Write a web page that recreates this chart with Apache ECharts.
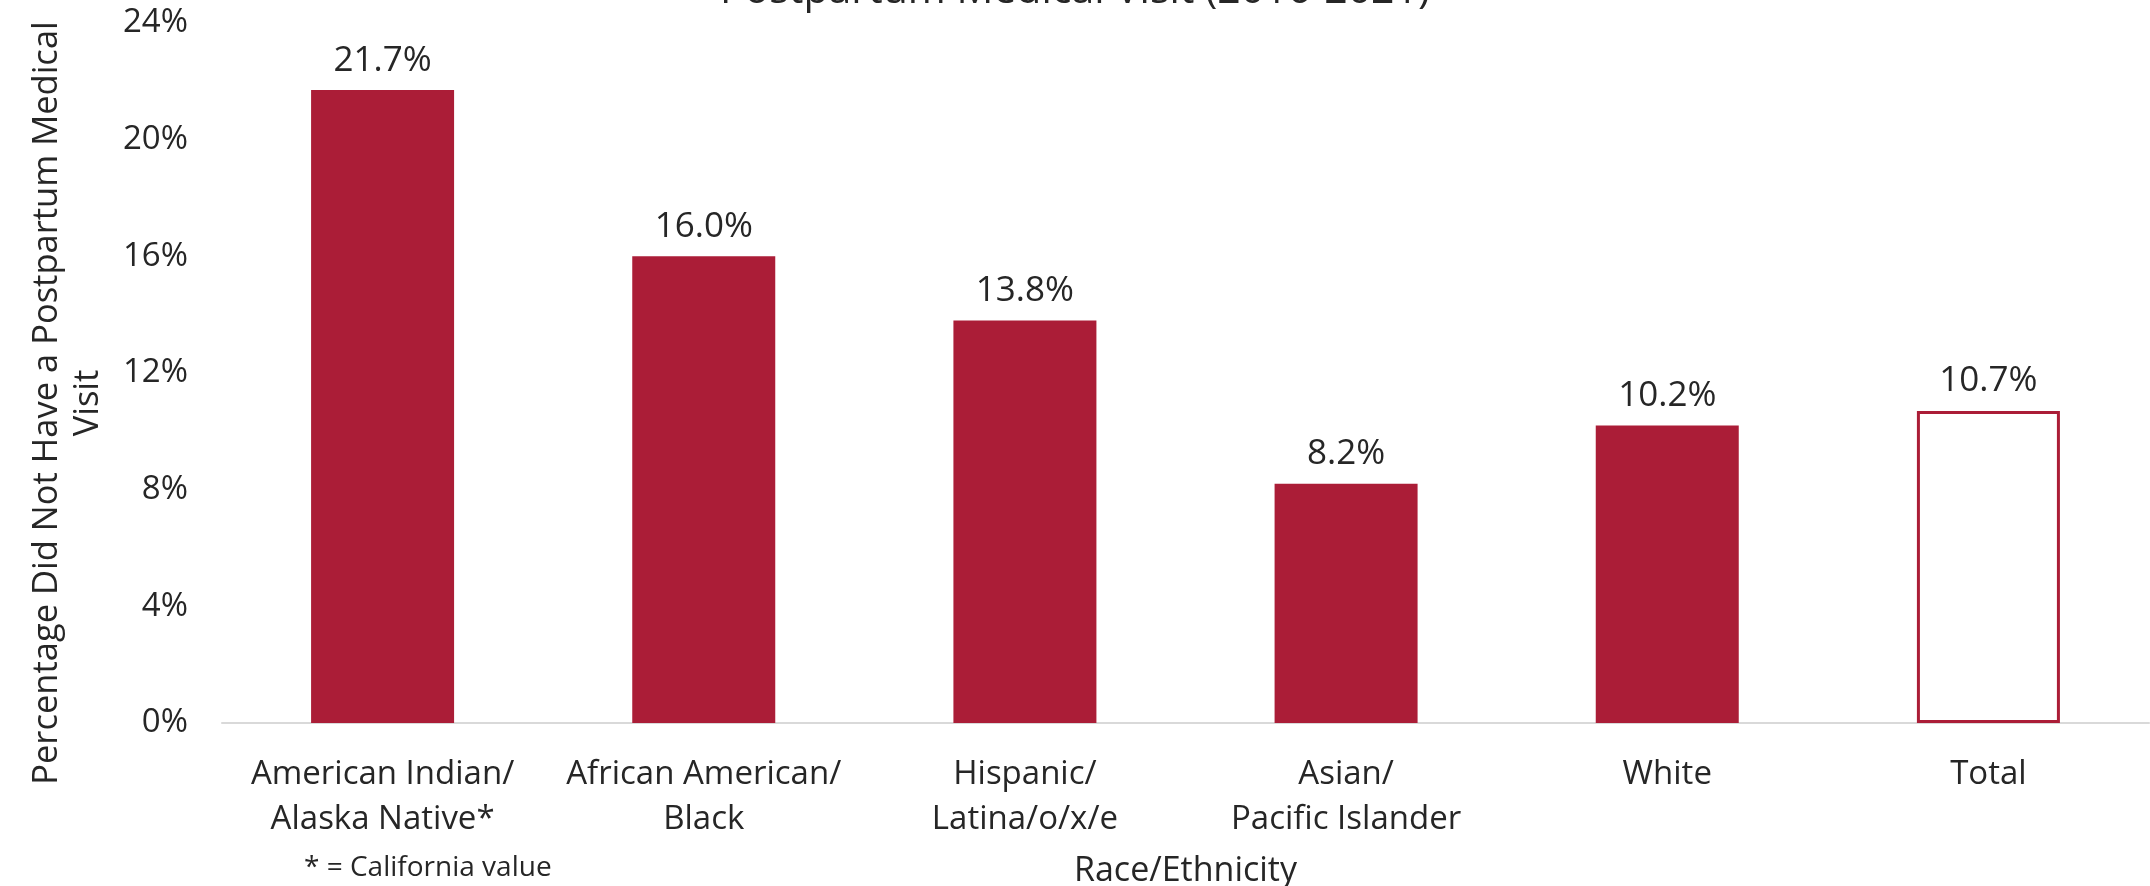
<!DOCTYPE html>
<html>
<head>
<meta charset="utf-8">
<script src="https://cdn.jsdelivr.net/npm/echarts@6/dist/echarts.min.js"></script>
<style>html,body{margin:0;padding:0;background:#fff}#c{width:2150px;height:886px}</style>
</head>
<body>
<div id="c"></div>
<script>
const categories = ["American Indian/\nAlaska Native*", "African American/\nBlack", "Hispanic/\nLatina/o/x/e", "Asian/\nPacific Islander", "White", "Total"];
const values = [21.7, 16.0, 13.8, 8.2, 10.2, 10.7];
const yTicks = [0, 4, 8, 12, 16, 20, 24];
const titleText = "Postpartum Medical Visit (2016-2021)";
const yAxisTitle = "Percentage Did Not Have a Postpartum Medical\nVisit";
const xAxisTitle = "Race/Ethnicity";
const noteText = "* = California value";

const RED = '#AB1D37';
const FONT = 'Open Sans';
const TXT = '#262626';

const chart = echarts.init(document.getElementById('c'));
const data = values.map((v, i) => {
  if (categories[i] === 'Total') {
    return { value: v, itemStyle: { color: '#ffffff', borderColor: RED, borderWidth: 3 } };
  }
  return { value: v };
});

chart.setOption({
  animation: false,
  backgroundColor: '#fff',
  textStyle: { fontFamily: FONT },
  title: {
    text: titleText,
    left: 'center',
    top: -34,
    textStyle: { fontFamily: FONT, fontSize: 41, fontWeight: 'normal', color: TXT }
  },
  grid: { left: 222, right: 1, top: 23, bottom: 163, outerBoundsMode: 'none', containLabel: false },
  xAxis: {
    type: 'category',
    data: categories,
    name: xAxisTitle,
    nameLocation: 'middle',
    nameGap: 131,
    nameTextStyle: { fontFamily: FONT, fontSize: 34, color: TXT },
    axisLine: { lineStyle: { color: '#d9d9d9', width: 2 } },
    axisTick: { show: false },
    axisLabel: { fontFamily: FONT, fontSize: 33, color: TXT, lineHeight: 45, margin: 29, interval: 0 }
  },
  yAxis: {
    type: 'value',
    min: 0,
    max: 24,
    interval: 4,
    name: yAxisTitle,
    nameLocation: 'middle',
    nameGap: 113,
    nameTextStyle: { fontFamily: FONT, fontSize: 34.5, color: TXT, lineHeight: 41, padding: [0, 60, 0, 0] },
    axisLine: { show: false },
    axisTick: { show: false },
    splitLine: { show: false },
    axisLabel: {
      fontFamily: FONT, fontSize: 33, color: TXT, margin: 34,
      formatter: v => yTicks.includes(v) ? v + '%' : ''
    }
  },
  series: [{
    type: 'bar',
    data: data,
    barWidth: 143,
    itemStyle: { color: RED },
    label: {
      show: true,
      position: 'top',
      distance: 12,
      fontFamily: FONT,
      fontSize: 35,
      color: TXT,
      formatter: p => p.value.toFixed(1) + '%'
    }
  }],
  graphic: [{
    type: 'text',
    left: 304,
    top: 854,
    style: { text: noteText, fontFamily: FONT, fontSize: 28, fill: TXT }
  }]
});
</script>
</body>
</html>
